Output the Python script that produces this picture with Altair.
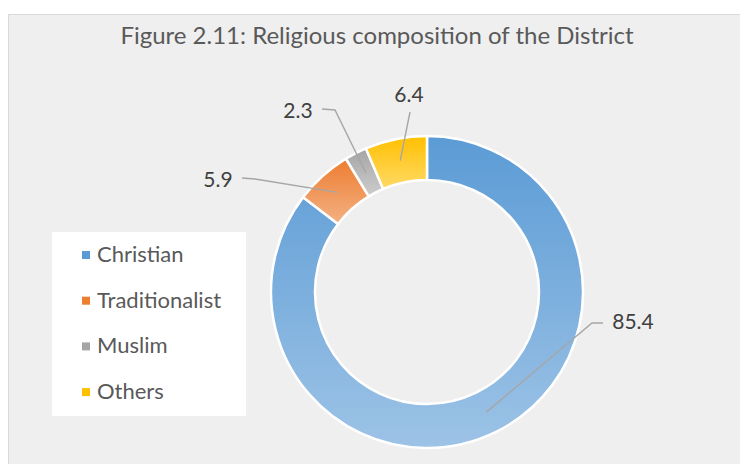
import altair as alt
import pandas as pd
import numpy as np

# ---- data ----
categories = ["Christian", "Traditionalist", "Muslim", "Others"]
shares = [85.4, 5.9, 2.3, 6.4]
title_text = ["Figure 2.11: Religious composition of the District"]

# ---- styles ----
colors_top = ["#5b9bd5", "#ed7d31", "#a5a5a5", "#ffc000"]
colors_bottom = ["#9dc3e6", "#f4b183", "#cccccc", "#ffd966"]

W, H = 732, 450
CX, CY = 419, 278
R_OUT, R_IN = 156, 112
R_ANCHOR = (R_OUT + R_IN) / 2
FONT = "Lato"

# manual label placement (offsets from the donut centre), as in the original
label_offsets = {
    "Christian": (206, 31, "right"),
    "Traditionalist": (-209, -111, "left"),
    "Muslim": (-129, -180, "left"),
    "Others": (-18, -196, "top"),
}

df = pd.DataFrame({"category": categories, "share": shares, "order": list(range(len(categories)))})

# leader lines & label positions derived from the slice angles
total = float(sum(shares))
cum = np.cumsum([0.0] + shares)
line_rows, label_rows = [], []
for i, cat in enumerate(categories):
    mid = (cum[i] + cum[i + 1]) / 2 / total * 2 * np.pi
    ax, ay = CX + R_ANCHOR * np.sin(mid), CY - R_ANCHOR * np.cos(mid)
    dx, dy, side = label_offsets[cat]
    lx, ly = CX + dx, CY + dy
    if side == "right":
        tail = (lx - 30, ly)
        elbow = (lx - 41, ly)
    elif side == "left":
        tail = (lx + 24, ly - 3)
        elbow = (lx + 37, ly - 2)
    else:
        tail = (lx + 1, ly + 16)
        elbow = tail
    for s, (px, py) in enumerate([(ax, ay), elbow, tail]):
        line_rows.append({"category": cat, "step": s, "px": px, "py": py})
    label_rows.append({"category": cat, "share": shares[i], "lx": lx, "ly": ly})

lines = pd.DataFrame(line_rows)
labels = pd.DataFrame(label_rows)


def grad(top, bottom):
    return {
        "gradient": "linear",
        "x1": 0, "y1": 0, "x2": 0, "y2": 1,
        "stops": [{"offset": 0, "color": top}, {"offset": 1, "color": bottom}],
    }


fill_cond = {
    "condition": [
        {"test": f"datum.category === '{c}'", "value": grad(t, b)}
        for c, t, b in zip(categories[:-1], colors_top[:-1], colors_bottom[:-1])
    ],
    "value": grad(colors_top[-1], colors_bottom[-1]),
}

arc_base = alt.Chart(df).encode(
    theta=alt.Theta("share:Q", stack=True),
    order=alt.Order("order:Q"),
    x=alt.value(CX),
    y=alt.value(CY),
)

arc_legend = arc_base.mark_arc(outerRadius=R_OUT, innerRadius=R_IN).encode(
    color=alt.Color(
        "category:N",
        sort=categories,
        scale=alt.Scale(domain=categories, range=colors_top),
        legend=alt.Legend(
            title="\u00a0",
            titleOrient="right",
            titleFontSize=8,
            titlePadding=13,
            titleColor="#ffffff",
            orient="none",
            legendX=44,
            legendY=218,
            fillColor="#ffffff",
            padding=12,
            symbolOffset=11,
            symbolType="square",
            symbolSize=64,
            symbolStrokeWidth=0,
            labelOffset=0,
            labelFont=FONT,
            labelFontSize=22,
            labelColor="#595959",
            rowPadding=23.7,
        ),
    )
)

arc_grad = arc_base.mark_arc(
    outerRadius=R_OUT, innerRadius=R_IN, stroke="#ffffff", strokeWidth=2.5
).encode(fill=fill_cond)

xs = alt.X("px:Q", scale=alt.Scale(domain=[0, W], nice=False, zero=False), axis=None)
ys = alt.Y("py:Q", scale=alt.Scale(domain=[0, H], nice=False, zero=False, reverse=True), axis=None)

leader = alt.Chart(lines).mark_line(color="#a6a6a6", strokeWidth=1.4).encode(
    x=xs, y=ys, detail="category:N", order="step:Q"
)

text = alt.Chart(labels).mark_text(
    font=FONT, fontSize=21, color="#404040", align="center", baseline="middle"
).encode(
    x=alt.X("lx:Q", scale=alt.Scale(domain=[0, W], nice=False, zero=False), axis=None),
    y=alt.Y("ly:Q", scale=alt.Scale(domain=[0, H], nice=False, zero=False, reverse=True), axis=None),
    text=alt.Text("share:Q", format=".1f"),
)

title = alt.Chart(pd.DataFrame({"t": title_text})).mark_text(
    font=FONT, fontSize=24, color="#595959", align="center", baseline="alphabetic"
).encode(x=alt.value(369), y=alt.value(30), text="t:N")

chart = (
    alt.layer(arc_legend, arc_grad, leader, text, title)
    .properties(
        width=W,
        height=H,
        autosize=alt.AutoSizeParams(type="none"),
        padding={"top": 6, "left": 0, "right": 0, "bottom": 0},
    )
    .configure(background="#ffffff")
    .configure_view(fill="#efefef", stroke="#d9d9d9", strokeWidth=1)
)

chart.save("out.html", embed_options={"renderer": "svg", "actions": False})
